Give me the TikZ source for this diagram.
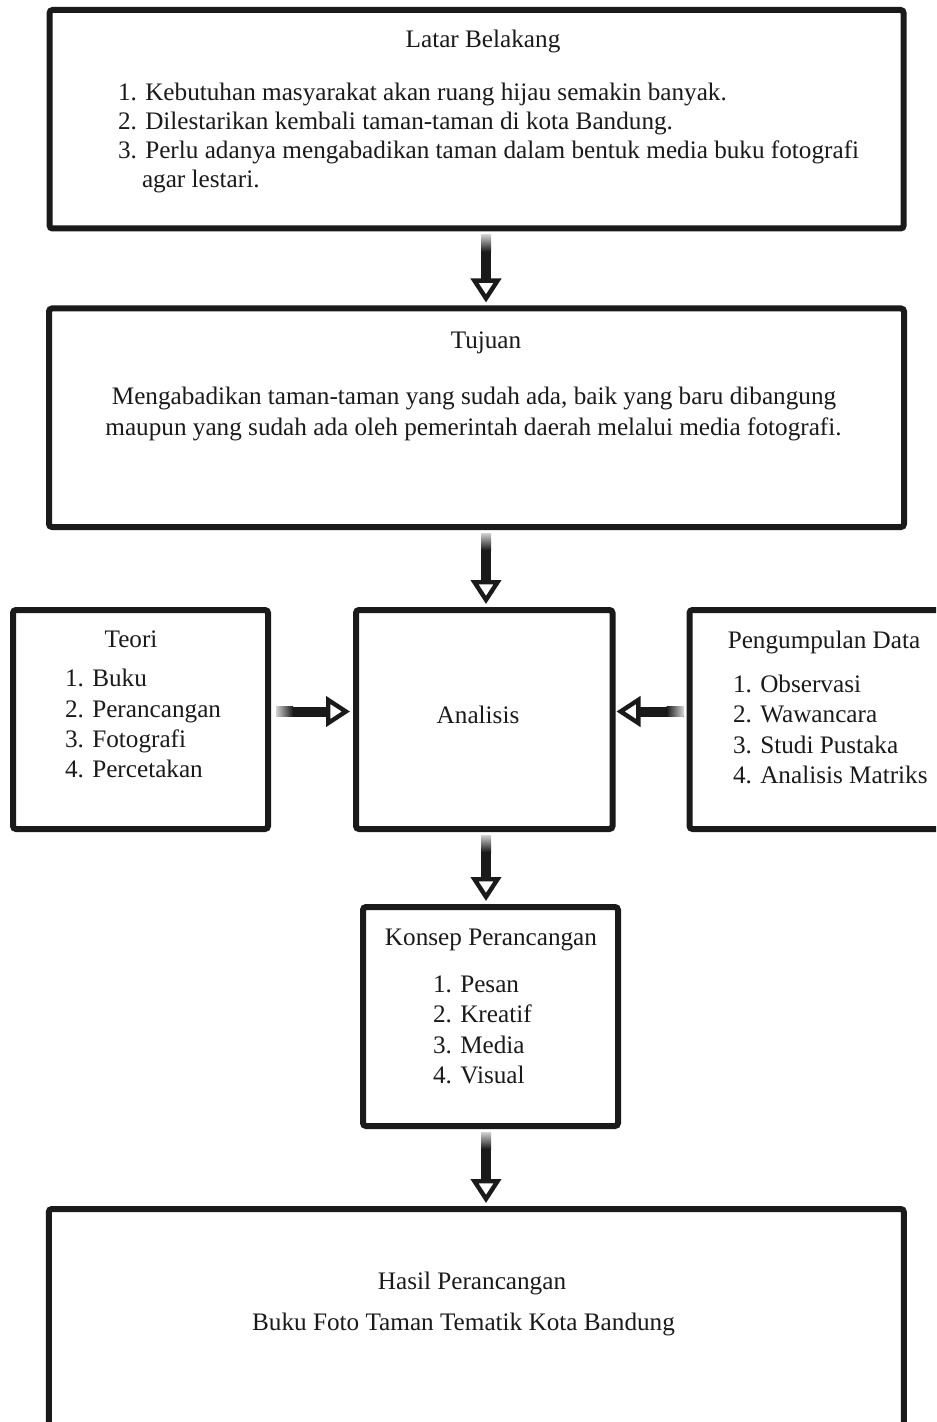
\documentclass[tikz,border=0pt]{standalone}
\usepackage{fontspec}
\setmainfont{Liberation Serif}
\usetikzlibrary{arrows.meta,calc}
\definecolor{ink}{HTML}{1A1A1A}
\begin{document}
\begin{tikzpicture}[x=0.5pt,y=-0.5pt,
  box/.style={draw=ink, line width=3pt, rounded corners=1.5pt, inner sep=0, fill=white},
  txt/.style={inner sep=0, outer sep=0, font=\fontsize{12.6}{15}\selectfont, text=ink},
  conn/.style={draw=ink, line width=5pt,
    -{Triangle[open, length=12pt, width=15pt, line width=2.2pt]}}]
\useasboundingbox (0,0) rectangle (936,1422);
\clip (0,0) rectangle (936,1422);
\fill[white] (0,0) rectangle (936,1422);
% boxes
\node[box, minimum width=427pt, minimum height=109.25pt] (lb) at (476.6,119.25) {};
\node[box, minimum width=427.5pt, minimum height=109.25pt] (tj) at (476.5,417.75) {};
\node[box, minimum width=127.5pt, minimum height=109.5pt] (te) at (140.5,719.5) {};
\node[box, minimum width=128.25pt, minimum height=109.5pt] (an) at (484.25,719.5) {};
\node[box, minimum width=135pt, minimum height=109.5pt] (pd) at (824.5,719.5) {};
\node[box, minimum width=127.5pt, minimum height=109.5pt] (ks) at (490.5,1016.5) {};
\node[box, minimum width=427.5pt, minimum height=115.5pt] (hs) at (476.3,1324.5) {};
% reference coordinates for connector lines
\coordinate (xa) at (486,0);
\coordinate (ya) at (0,711.5);
% vertical connectors
\draw[conn] ($(lb.south -| xa)+(0,3)$) -- ($(tj.north -| xa)+(0,-3)$);
\draw[conn] ($(tj.south -| xa)+(0,3)$) -- ($(an.north -| xa)+(0,-3)$);
\draw[conn] ($(an.south -| xa)+(0,3)$) -- ($(ks.north -| xa)+(0,-3)$);
\draw[conn] ($(ks.south -| xa)+(0,3)$) -- ($(hs.north -| xa)+(0,-3)$);
% horizontal connectors
\draw[conn] ($(te.east |- ya)+(5,0)$) -- ($(an.west |- ya)+(-3,0)$);
\draw[conn] ($(pd.west |- ya)+(-3,0)$) -- ($(an.east |- ya)+(1,0)$);
% fading starts
\foreach \n in {lb,tj,an,ks}{
  \shade[top color=white!80!ink, bottom color=ink] ($(\n.south -| xa)+(-5,3)$) rectangle ($(\n.south -| xa)+(5,20)$);
}
\shade[left color=white!80!ink, right color=ink] ($(te.east |- ya)+(5,-5)$) rectangle ($(te.east |- ya)+(22,5)$);
\shade[right color=white!80!ink, left color=ink] ($(pd.west |- ya)+(-3,-5)$) rectangle ($(pd.west |- ya)+(-20,5)$);
% texts
\node[txt, anchor=base] (lbt) at (483,48) {Latar Belakang};
\node[txt, anchor=base west] (lb1) at (118,101) {1. Kebutuhan masyarakat akan ruang hijau semakin banyak.};
\node[txt, anchor=base west] (lb2) at (118,130) {2. Dilestarikan kembali taman-taman di kota Bandung.};
\node[txt, anchor=base west] (lb3) at (118,159) {3. Perlu adanya mengabadikan taman dalam bentuk media buku fotografi};
\node[txt, anchor=base west] (lb4) at (142,188) {agar lestari.};
\node[txt, anchor=base] (tjt) at (486,349) {Tujuan};
\node[txt, anchor=base] (tj1) at (474,405) {Mengabadikan taman-taman yang sudah ada, baik yang baru dibangung};
\node[txt, anchor=base] (tj2) at (473.5,436) {maupun yang sudah ada oleh pemerintah daerah melalui media fotografi.};
\node[txt, anchor=base] (tet) at (131,647) {Teori};
\node[txt, anchor=base west] (te1) at (65,686) {1. Buku};
\node[txt, anchor=base west] (te2) at (65,717) {2. Perancangan};
\node[txt, anchor=base west] (te3) at (65,747) {3. Fotografi};
\node[txt, anchor=base west] (te4) at (65,777) {4. Percetakan};
\node[txt, anchor=base] (ant) at (478,723) {Analisis};
\node[txt, anchor=base] (pdt) at (824,648) {Pengumpulan Data};
\node[txt, anchor=base west] (pd1) at (733,692) {1. Observasi};
\node[txt, anchor=base west] (pd2) at (733,722) {2. Wawancara};
\node[txt, anchor=base west] (pd3) at (733,753) {3. Studi Pustaka};
\node[txt, anchor=base west] (pd4) at (733,783) {4. Analisis Matriks};
\node[txt, anchor=base] (kst) at (491,945) {Konsep Perancangan};
\node[txt, anchor=base west] (ks1) at (433,992) {1. Pesan};
\node[txt, anchor=base west] (ks2) at (433,1022) {2. Kreatif};
\node[txt, anchor=base west] (ks3) at (433,1053) {3. Media};
\node[txt, anchor=base west] (ks4) at (433,1083) {4. Visual};
\node[txt, anchor=base] (hst) at (472,1289) {Hasil Perancangan};
\node[txt, anchor=base] (hs1) at (463.5,1330) {Buku Foto Taman Tematik Kota Bandung};
\end{tikzpicture}
\end{document}
